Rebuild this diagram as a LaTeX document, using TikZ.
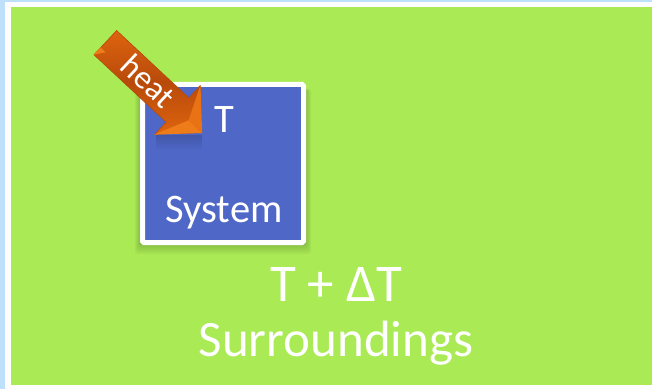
\documentclass[tikz,border=0pt]{standalone}
\usepackage{fontspec}
\setmainfont{Carlito}
\usetikzlibrary{positioning,calc,shapes.arrows,fadings}
\definecolor{pagewhite}{HTML}{FEFEFE}
\definecolor{pageblue}{HTML}{BFE0FB}
\definecolor{surrgreen}{HTML}{A9EA55}
\definecolor{sysblue}{HTML}{4F68C8}
\definecolor{arrowmain}{HTML}{DE640F}
\definecolor{arrowdark}{HTML}{B84A0A}
\definecolor{arrowedge}{HTML}{B5490B}
\definecolor{arrowlight}{HTML}{EE7C18}
\tikzset{
  surr/.style={fill=surrgreen,minimum width=641pt,minimum height=378pt,inner sep=0pt},
  sysbox/.style={rectangle,rounded corners=1.5pt,draw=white,line width=5pt,fill=sysblue,
    minimum width=161pt,minimum height=158pt,inner sep=0pt},
  heatarrow/.style={single arrow,single arrow head extend=16.7pt,single arrow tip angle=90,
    minimum height=132pt,text height=20pt,text depth=0pt,inner ysep=6.3pt,inner xsep=0pt,
    rotate=-43,draw=arrowedge,line width=0.6pt,
    top color=arrowmain,bottom color=arrowmain,middle color=arrowdark,text=white,
    font=\fontsize{33}{33}\selectfont},
  facet/.style={fill=arrowlight},
  sys text/.style={text=white,font=\fontsize{40.5}{40.5}\selectfont,inner sep=0pt},
  surr text/.style={text=white,font=\fontsize{51}{51}\selectfont,inner sep=0pt}
}
\begin{document}
\begin{tikzpicture}[x=1pt,y=1pt]
  \useasboundingbox (0,0) rectangle (652,389);
  \fill[pageblue] (0,0) rectangle (652,389);
  \fill[pagewhite] (5,0) rectangle (652,387);
  \node [surr,anchor=south west] (surr) at (11,4) {};

  % shadow under the system box
  \foreach \s in {0,1,...,6}
    \fill[black,opacity=0.035,rounded corners=3pt] (141-\s,147-2*\s) rectangle (305+\s,300);

  \node [sysbox] (sys) at (223,225.5) {};
  \node [sys text] (temp) at (224,269) {T};
  \node [sys text,below=79pt of temp.south,anchor=center] (sysname) {System};
  \node [surr text,font=\fontsize{53}{53}\selectfont] (outer) at (336,105) {T + ΔT};
  \node [surr text,below=20pt of outer] (surrname) {Surroundings};

  % reflection of the arrow
  \fill[black!45!sysblue,path fading=south,opacity=0.35] (156,254) rectangle (202,239);

  \node [heatarrow] (heat) at (147.5,307) {heat};
  \coordinate (inner) at ($(heat.tip)!0.14!(heat.tail)$);
  \coordinate (tailin) at ($(heat.tail)!0.09!(heat.tip)$);
  \fill[facet] (heat.after tip) -- (heat.tip) -- (inner) -- ($(inner)!0.62!(heat.after tip)$) -- cycle;
  \fill[arrowlight!60!arrowmain] (heat.before tip) -- (heat.tip) -- (inner) -- ($(inner)!0.62!(heat.before tip)$) -- cycle;
  \fill[arrowlight] (heat.before tail) -- ($(heat.before tail)!0.3!(heat.after tail)$) -- ($(tailin)!0.4!(heat.before tail)$) -- cycle;
\end{tikzpicture}
\end{document}
